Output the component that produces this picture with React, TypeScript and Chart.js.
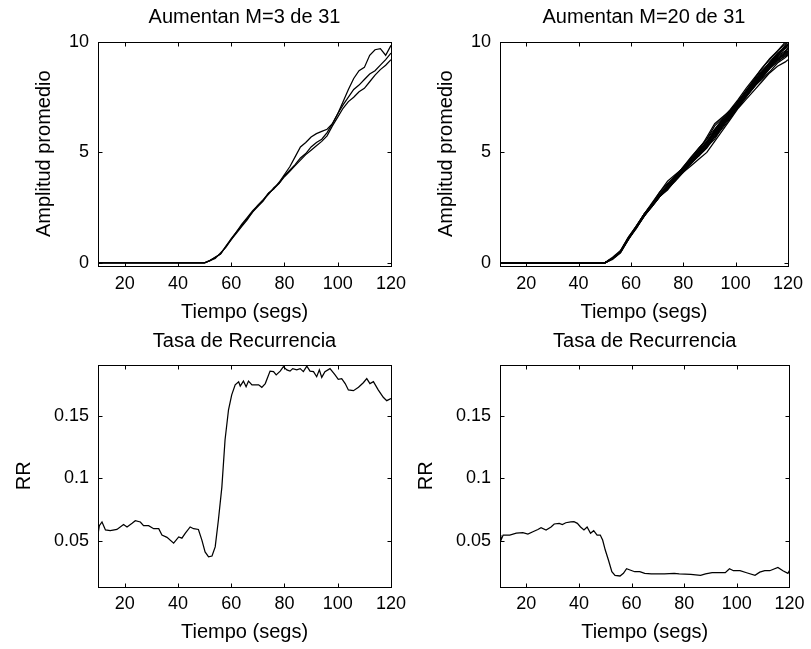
import React, { useEffect, useRef } from "react";
import { Chart, registerables } from "chart.js";

Chart.register(...registerables);

const FONT = "'Liberation Sans', Arial, Helvetica, sans-serif";

// ---------- Tick labels ----------
const xTicks = [20, 40, 60, 80, 100, 120];
const ampTicks = [0, 5, 10];
const rrTicks = [0.05, 0.1, 0.15];

// ---------- Top-left: Aumentan M=3 de 31 ----------
const t3 = [10, 50, 52, 54, 56, 58, 60, 62, 64, 66, 68, 70, 72, 74, 76, 78, 80, 82, 84, 86, 88, 90, 92, 94, 96, 98, 100, 102, 104, 106, 108, 110, 112, 114, 116, 118, 120];
const m3a = [0, 0, 0.1, 0.25, 0.4, 0.75, 1.1, 1.4, 1.75, 2.05, 2.35, 2.6, 2.85, 3.15, 3.35, 3.65, 4.0, 4.35, 4.8, 5.25, 5.45, 5.7, 5.85, 5.95, 6.05, 6.3, 6.75, 7.3, 7.85, 8.35, 8.7, 8.85, 9.4, 9.65, 9.7, 9.4, 9.85];
const m3b = [0, 0, 0.1, 0.25, 0.4, 0.75, 1.05, 1.4, 1.7, 2.0, 2.3, 2.6, 2.85, 3.1, 3.4, 3.6, 3.95, 4.2, 4.45, 4.75, 4.95, 5.25, 5.45, 5.6, 5.9, 6.3, 6.75, 7.15, 7.5, 7.85, 8.05, 8.3, 8.55, 8.7, 8.95, 9.2, 9.5];
const m3c = [0, 0, 0.1, 0.2, 0.45, 0.7, 1.05, 1.35, 1.65, 1.95, 2.3, 2.55, 2.8, 3.15, 3.35, 3.6, 3.9, 4.15, 4.4, 4.65, 4.9, 5.1, 5.3, 5.5, 5.75, 6.2, 6.6, 7.0, 7.3, 7.5, 7.75, 7.9, 8.2, 8.5, 8.75, 8.95, 9.2];

// ---------- Top-right: Aumentan M=20 de 31 ----------
const t20 = [10, 50, 53, 56, 59, 62, 65, 68, 71, 74, 77, 80, 83, 86, 89, 92, 95, 98, 101, 104, 107, 110, 113, 116, 119, 120];
const m20s1 = [0, 0, 0.2, 0.5, 1.1, 1.6, 2.2, 2.7, 3.2, 3.7, 4.0, 4.3, 4.6, 5.1, 5.7, 6.3, 6.6, 6.9, 7.3, 7.8, 8.3, 8.8, 9.2, 9.6, 9.9, 10.1];
const m20s2 = [0, 0, 0.2, 0.5, 1.1, 1.55, 2.1, 2.55, 3.0, 3.35, 3.7, 4.1, 4.4, 4.7, 5.0, 5.5, 6.0, 6.5, 7.0, 7.4, 7.8, 8.2, 8.6, 8.9, 9.1, 9.2];
const m20s3 = [0, 0, 0.2, 0.55, 1.15, 1.65, 2.2, 2.65, 3.1, 3.45, 3.9, 4.3, 4.7, 5.1, 5.5, 6.0, 6.45, 6.9, 7.3, 7.8, 8.2, 8.6, 9.1, 9.5, 9.8, 9.9];
const m20s4 = [0, 0, 0.15, 0.45, 1.05, 1.55, 2.1, 2.55, 3.0, 3.3, 3.75, 4.15, 4.5, 4.85, 5.2, 5.7, 6.1, 6.55, 7.05, 7.5, 7.95, 8.35, 8.8, 9.1, 9.4, 9.5];
const m20s5 = [0, 0, 0.2, 0.5, 1.1, 1.6, 2.15, 2.6, 3.1, 3.5, 3.9, 4.35, 4.75, 5.2, 5.6, 6.05, 6.5, 6.85, 7.35, 7.75, 8.25, 8.7, 9.05, 9.45, 9.7, 9.8];
const m20s6 = [0, 0, 0.2, 0.5, 1.1, 1.6, 2.1, 2.6, 3.0, 3.4, 3.8, 4.1, 4.5, 4.9, 5.3, 5.7, 6.2, 6.6, 7.1, 7.6, 8.0, 8.4, 8.8, 9.2, 9.5, 9.6];
const m20s7 = [0, 0, 0.2, 0.5, 1.1, 1.65, 2.2, 2.6, 3.05, 3.4, 3.85, 4.25, 4.65, 4.95, 5.35, 5.9, 6.35, 6.75, 7.2, 7.7, 8.1, 8.55, 9.0, 9.35, 9.75, 9.85];
const m20s8 = [0, 0, 0.2, 0.45, 1.05, 1.6, 2.15, 2.55, 3.0, 3.4, 3.8, 4.2, 4.55, 4.9, 5.25, 5.8, 6.25, 6.6, 7.15, 7.55, 8.05, 8.45, 8.9, 9.25, 9.5, 9.6];
const m20s9 = [0, 0, 0.2, 0.5, 1.1, 1.6, 2.15, 2.65, 3.1, 3.45, 3.85, 4.2, 4.6, 5.05, 5.45, 5.85, 6.3, 6.75, 7.25, 7.7, 8.15, 8.6, 9.0, 9.35, 9.6, 9.7];
const m20s10 = [0, 0, 0.25, 0.55, 1.15, 1.65, 2.2, 2.65, 3.05, 3.45, 3.8, 4.2, 4.6, 5.0, 5.4, 5.95, 6.4, 6.8, 7.2, 7.6, 8.1, 8.5, 8.95, 9.3, 9.55, 9.75];
const m20s11 = [0, 0, 0.2, 0.5, 1.1, 1.6, 2.15, 2.6, 3.05, 3.35, 3.75, 4.15, 4.5, 5.0, 5.5, 5.9, 6.3, 6.65, 7.1, 7.6, 8.05, 8.45, 8.85, 9.2, 9.45, 9.55];
const m20s12 = [0, 0, 0.2, 0.5, 1.1, 1.6, 2.15, 2.6, 3.05, 3.4, 3.85, 4.25, 4.7, 5.1, 5.45, 5.85, 6.35, 6.8, 7.25, 7.7, 8.2, 8.6, 9.0, 9.4, 9.85, 10.0];
const m20s13 = [0, 0, 0.2, 0.5, 1.1, 1.6, 2.15, 2.65, 3.2, 3.6, 3.95, 4.3, 4.6, 4.85, 5.3, 6.0, 6.5, 6.8, 7.05, 7.5, 8.0, 8.3, 8.65, 9.05, 9.3, 9.4];
const m20s14 = [0, 0, 0.2, 0.5, 1.05, 1.6, 2.1, 2.6, 3.0, 3.4, 3.9, 4.35, 4.8, 5.2, 5.6, 6.2, 6.55, 6.95, 7.4, 7.9, 8.35, 8.8, 9.25, 9.6, 10.0, 10.1];
const m20s15 = [0, 0, 0.2, 0.5, 1.1, 1.6, 2.15, 2.55, 3.0, 3.35, 3.8, 4.25, 4.55, 4.9, 5.25, 5.6, 6.15, 6.7, 7.15, 7.55, 7.95, 8.5, 8.95, 9.15, 9.35, 9.45];
const m20s16 = [0, 0, 0.2, 0.5, 1.1, 1.6, 2.2, 2.65, 3.1, 3.55, 3.85, 4.2, 4.65, 5.05, 5.4, 5.75, 6.25, 6.75, 7.3, 7.75, 8.2, 8.65, 9.05, 9.45, 9.75, 9.9];

// ---------- Bottom-left: Tasa de Recurrencia (M=3) ----------
const rrTime3 = [10, 10.5, 11.5, 12.8, 14.6, 17.1, 19.6, 20.9, 22.8, 24, 25.9, 27.1, 29, 30.9, 32.8, 34, 35.9, 38.4, 40.3, 41.5, 42.8, 44.6, 45.9, 47.7, 49, 50.2, 51.5, 52.8, 54, 55.2, 56.5, 57.7, 59, 60.2, 61.5, 62.8, 63.4, 64.6, 65.6, 66.5, 67.8, 70.3, 71.5, 72.8, 74.6, 75.9, 76.9, 78.4, 79.6, 80.9, 82.1, 83.1, 84.6, 85.9, 87.1, 88.4, 89.6, 90.9, 92.1, 93.1, 94, 95.2, 97.1, 99, 100.2, 101.5, 102.8, 104, 105.9, 107.8, 109.6, 110.9, 112.1, 113.4, 115.2, 117.1, 118.4, 120];
const rr3 = [0.055, 0.062, 0.065, 0.0586, 0.058, 0.059, 0.063, 0.061, 0.064, 0.066, 0.065, 0.062, 0.062, 0.0596, 0.0596, 0.0545, 0.0527, 0.048, 0.053, 0.052, 0.056, 0.061, 0.0596, 0.059, 0.0505, 0.041, 0.037, 0.0377, 0.045, 0.0666, 0.093, 0.131, 0.155, 0.167, 0.175, 0.1775, 0.174, 0.178, 0.1735, 0.178, 0.175, 0.175, 0.173, 0.176, 0.186, 0.1856, 0.183, 0.186, 0.1896, 0.187, 0.186, 0.188, 0.187, 0.188, 0.1856, 0.19, 0.186, 0.1856, 0.1815, 0.187, 0.181, 0.1856, 0.188, 0.183, 0.1794, 0.18, 0.176, 0.1709, 0.1703, 0.173, 0.1767, 0.18, 0.176, 0.1775, 0.171, 0.165, 0.1623, 0.164];

// ---------- Bottom-right: Tasa de Recurrencia (M=20) ----------
const rrTime20 = [10, 10.3, 11.2, 13.7, 16.2, 18.7, 20.6, 22.5, 24.4, 25.6, 27.5, 29.4, 30.6, 32.5, 33.7, 35, 36.9, 38.1, 39.4, 40.6, 41.9, 43.1, 44.4, 45.6, 46.9, 48.1, 49, 50, 51.2, 52.5, 53.7, 55.6, 56.9, 58.1, 59.4, 61.2, 63.1, 65, 67.5, 72.5, 76.2, 78.1, 82.5, 86.2, 88.1, 90.6, 95.6, 97.2, 98.7, 101.2, 103.7, 106.9, 108.7, 110.6, 112.5, 115.6, 117.5, 119.4, 120];
const rr20 = [0.0545, 0.05, 0.0545, 0.0545, 0.056, 0.0564, 0.0553, 0.0572, 0.059, 0.0604, 0.0586, 0.061, 0.0634, 0.0639, 0.063, 0.0644, 0.065, 0.0652, 0.0639, 0.061, 0.0586, 0.061, 0.056, 0.058, 0.0545, 0.0545, 0.0505, 0.0425, 0.0345, 0.0251, 0.0222, 0.0217, 0.0238, 0.0275, 0.0265, 0.0251, 0.0251, 0.0238, 0.0233, 0.0233, 0.0238, 0.0233, 0.023, 0.0222, 0.0233, 0.0243, 0.0243, 0.0275, 0.0259, 0.0259, 0.0243, 0.0222, 0.0248, 0.0259, 0.0259, 0.0286, 0.0259, 0.0238, 0.026];

// ---------- Panel layout ----------
type Series = { x: number[]; y: number[] };
type Panel = {
  left: number; top: number; width: number; height: number;
  area: { l: number; r: number; t: number; b: number };
  title: string; titlePadTop: number; titlePadBottom: number;
  yTitle: string; yTitlePad: number;
  xTitlePad: number; xTickPad: number;
  yMin: number; yMax: number; yTicks: number[];
  series: Series[];
};

const boxPlugin = {
  id: "matlabBox",
  afterDraw(chart: any) {
    const { ctx, chartArea: a, scales } = chart;
    const L = Math.round(a.left) + 0.5;
    const R = Math.round(a.right) + 0.5;
    const T = Math.round(a.top) + 0.5;
    const B = Math.round(a.bottom) + 0.5;
    const len = 4;
    ctx.save();
    ctx.strokeStyle = "#000";
    ctx.lineWidth = 1;
    ctx.strokeRect(L, T, R - L, B - T);
    ctx.beginPath();
    scales.x.ticks.forEach((t: any) => {
      const px = Math.round(scales.x.getPixelForValue(t.value)) + 0.5;
      ctx.moveTo(px, B); ctx.lineTo(px, B - len);
      ctx.moveTo(px, T); ctx.lineTo(px, T + len);
    });
    scales.y.ticks.forEach((t: any) => {
      const py = Math.round(scales.y.getPixelForValue(t.value)) + 0.5;
      ctx.moveTo(L, py); ctx.lineTo(L + len, py);
      ctx.moveTo(R, py); ctx.lineTo(R - len, py);
    });
    ctx.stroke();
    ctx.restore();
  },
};

function makeConfig(p: Panel): any {
  return {
    type: "line",
    data: {
      datasets: p.series.map((s) => ({
        data: s.x.map((x, i) => ({ x, y: s.y[i] })),
        borderColor: "#000",
        borderWidth: 1.25,
        pointRadius: 0,
        fill: false,
        tension: 0,
      })),
    },
    options: {
      responsive: false,
      maintainAspectRatio: false,
      animation: false,
      devicePixelRatio: 1,
      events: [],
      layout: { padding: { left: 0, top: 0, right: p.width - p.area.r, bottom: 0 } },
      plugins: {
        legend: { display: false },
        tooltip: { enabled: false },
        title: {
          display: true,
          text: p.title,
          fullSize: false,
          color: "#000",
          font: { family: FONT, size: 20, weight: "normal" },
          padding: { top: p.titlePadTop, bottom: p.titlePadBottom },
        },
      },
      scales: {
        x: {
          type: "linear",
          min: 10,
          max: 120,
          grid: { display: false, drawTicks: false },
          border: { display: false },
          ticks: {
            color: "#000",
            font: { family: FONT, size: 18 },
            padding: p.xTickPad,
            maxRotation: 0,
            autoSkip: false,
            callback: (v: number) => String(v),
          },
          afterBuildTicks: (s: any) => {
            s.ticks = xTicks.map((v) => ({ value: v }));
          },
          afterFit: (s: any) => {
            s.height = p.height - p.area.b;
          },
          title: {
            display: true,
            text: "Tiempo (segs)",
            color: "#000",
            font: { family: FONT, size: 20 },
            padding: { top: 0, bottom: p.xTitlePad },
          },
        },
        y: {
          type: "linear",
          min: p.yMin,
          max: p.yMax,
          grid: { display: false, drawTicks: false },
          border: { display: false },
          ticks: {
            color: "#000",
            font: { family: FONT, size: 18 },
            padding: 9,
            autoSkip: false,
            callback: (v: number) => String(v),
          },
          afterBuildTicks: (s: any) => {
            s.ticks = p.yTicks.map((v) => ({ value: v }));
          },
          afterFit: (s: any) => {
            s.width = p.area.l;
          },
          title: {
            display: true,
            text: p.yTitle,
            color: "#000",
            font: { family: FONT, size: 20 },
            padding: { top: p.yTitlePad, bottom: 0 },
          },
        },
      },
    },
    plugins: [boxPlugin],
  };
}

const panels: Panel[] = [
  {
    left: 0, top: 0, width: 420, height: 330,
    area: { l: 98, r: 391, t: 42, b: 265.5 },
    title: "Aumentan M=3 de 31", titlePadTop: 5.5, titlePadBottom: 12.5,
    yTitle: "Amplitud promedio", yTitlePad: 32,
    xTitlePad: 6, xTickPad: 8,
    yMin: -0.12, yMax: 10, yTicks: ampTicks,
    series: [
      { x: t3, y: m3a },
      { x: t3, y: m3b },
      { x: t3, y: m3c },
    ],
  },
  {
    left: 402, top: 0, width: 409, height: 330,
    area: { l: 98, r: 392, t: 42, b: 265.5 },
    title: "Aumentan M=20 de 31", titlePadTop: 5.5, titlePadBottom: 12.5,
    yTitle: "Amplitud promedio", yTitlePad: 32,
    xTitlePad: 6, xTickPad: 8,
    yMin: -0.12, yMax: 10, yTicks: ampTicks,
    series: [m20s1, m20s2, m20s3, m20s4, m20s5, m20s6, m20s7, m20s8, m20s9, m20s10, m20s11, m20s12, m20s13, m20s14, m20s15, m20s16].map((y) => ({ x: t20, y })),
  },
  {
    left: 0, top: 325, width: 420, height: 324,
    area: { l: 98, r: 391, t: 40, b: 261.7 },
    title: "Tasa de Recurrencia", titlePadTop: 4, titlePadBottom: 12,
    yTitle: "RR", yTitlePad: 12.5,
    xTitlePad: 4.7, xTickPad: 6.5,
    yMin: 0.0131, yMax: 0.1909, yTicks: rrTicks,
    series: [{ x: rrTime3, y: rr3 }],
  },
  {
    left: 402, top: 325, width: 409, height: 324,
    area: { l: 98, r: 392, t: 40, b: 261.7 },
    title: "Tasa de Recurrencia", titlePadTop: 4, titlePadBottom: 12,
    yTitle: "RR", yTitlePad: 12.5,
    xTitlePad: 4.7, xTickPad: 6.5,
    yMin: 0.0131, yMax: 0.1909, yTicks: rrTicks,
    series: [{ x: rrTime20, y: rr20 }],
  },
];

function PanelChart({ p }: { p: Panel }) {
  const ref = useRef<HTMLCanvasElement | null>(null);
  useEffect(() => {
    if (!ref.current) return;
    const chart = new Chart(ref.current, makeConfig(p));
    return () => chart.destroy();
  }, [p]);
  return (
    <canvas
      ref={ref}
      width={p.width}
      height={p.height}
      style={{ position: "absolute", left: p.left, top: p.top, width: p.width, height: p.height }}
    />
  );
}

export default function App() {
  return (
    <div style={{ position: "absolute", left: 0, top: 0, width: 811, height: 649, background: "#fff" }}>
      {panels.map((p, i) => (
        <PanelChart key={i} p={p} />
      ))}
    </div>
  );
}
